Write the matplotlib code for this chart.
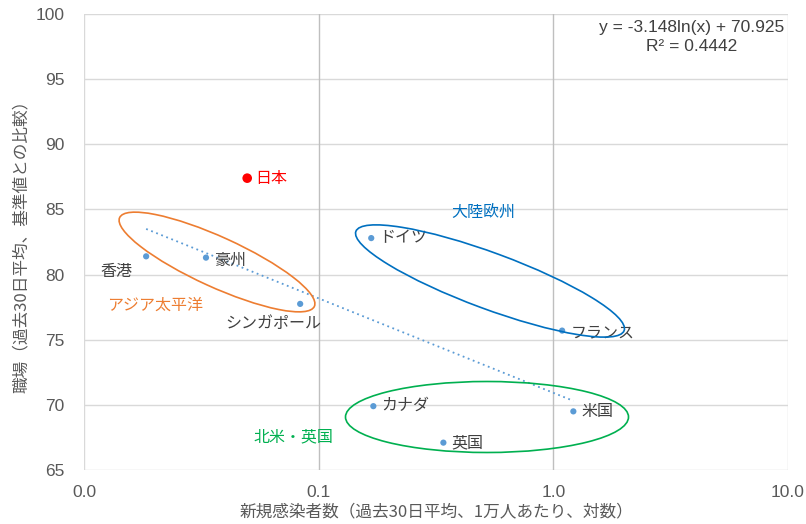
"""Scatter of workplace mobility vs new infections (log x) with group ellipses."""

import numpy as np
import matplotlib
matplotlib.use("Agg")
import matplotlib.pyplot as plt
from matplotlib.patches import Ellipse
from matplotlib.transforms import Affine2D

plt.rcParams['font.family'] = ['Noto Sans CJK JP', 'DejaVu Sans']

# data
countries = ['香港', '豪州', 'シンガポール', 'ドイツ', 'フランス', 'カナダ', '英国', '米国']
infections = [0.0184, 0.0331, 0.0834, 0.1675, 1.09, 0.171, 0.34, 1.217]
workplace = [81.4, 81.3, 77.75, 82.8, 75.7, 69.9, 67.1, 69.5]

japan_x = 0.0496
japan_y = 87.4

# trendline as printed on the chart
trend_a = -3.148
trend_b = 70.925
trend_r2 = 0.4442

x_ticks = [0.01, 0.1, 1, 10]
x_tick_labels = ['0.0', '0.1', '1.0', '10.0']
y_ticks = [65, 70, 75, 80, 85, 90, 95, 100]

TEXT = '#404040'
TICK = '#595959'
POINT = '#5B9BD5'

fig = plt.figure(figsize=(8.06, 5.24), dpi=100)
ax = fig.add_axes([84 / 806, 1 - 470 / 524, (788 - 84) / 806, (470 - 14) / 524])

ax.set_xscale('log')
ax.set_xlim(0.01, 10)
ax.set_ylim(65, 100)

# grid: light horizontal, darker vertical at 0.1 and 1
for y in y_ticks:
    ax.axhline(y, color='#d9d9d9', lw=1, zorder=0)
for x in x_ticks:
    c = '#bfbfbf' if x in (0.1, 1) else '#d9d9d9'
    ax.axvline(x, color=c, lw=1, zorder=0)
for s in ax.spines.values():
    s.set_visible(False)

ax.set_xticks(x_ticks)
ax.set_xticklabels(x_tick_labels)
ax.minorticks_off()
ax.set_yticks(y_ticks)
ax.tick_params(length=0, labelsize=12.5, labelcolor=TICK)
ax.tick_params(axis='y', pad=14)
ax.tick_params(axis='x', pad=11)
for lab in ax.get_xticklabels() + ax.get_yticklabels():
    lab.set_family(['Liberation Sans', 'DejaVu Sans'])

ax.set_xlabel('新規感染者数（過去30日平均、1万人あたり、対数）', fontsize=12, color=TICK, labelpad=2)
ax.set_ylabel('職場（過去30日平均、基準値との比較）', fontsize=12, color=TICK, labelpad=4)

# trendline
xs = np.geomspace(min(infections), max(infections), 100)
ax.plot(xs, trend_a * np.log(xs) + trend_b, ls=(0, (1, 2)), color=POINT, lw=1.3, zorder=2)

ax.scatter(infections, workplace, s=20, color=POINT, zorder=3, edgecolors='none')
ax.scatter([japan_x], [japan_y], s=48, color='#FF0000', zorder=3, edgecolors='none')

# point labels: offsets in points
offsets = {
    '香港': (-33, -11),
    '豪州': (6, -2),
    'シンガポール': (-54, -14),
    'ドイツ': (6, 0),
    'フランス': (6, -2),
    'カナダ': (6, 1),
    '英国': (6, 0),
    '米国': (6, 0),
}
for name, x, y in zip(countries, infections, workplace):
    dx, dy = offsets[name]
    ax.annotate(name, (x, y), xytext=(dx, dy), textcoords='offset points',
                ha='left', va='center', fontsize=11.5, color=TEXT)
ax.annotate('日本', (japan_x, japan_y), xytext=(6, 0), textcoords='offset points',
            ha='left', va='center', fontsize=11.5, color='#FF0000')

# group ellipses, placed in figure pixels (centre x, centre y from top, width, height, angle)
for cx, cy, w, h, ang, color in [
    (217, 262, 214, 50, -24.5, '#ED7D31'),
    (490, 281, 286, 56, -20.3, '#0070C0'),
    (487, 417, 283, 71, 0, '#00B050'),
]:
    e = Ellipse((cx, 524 - cy), w, h, angle=ang, fill=False, edgecolor=color, lw=1.2, zorder=2)
    e.set_transform(Affine2D())
    e.set_clip_on(False)
    fig.add_artist(e)

ax.text(0.101, 0.362, 'アジア太平洋', transform=ax.transAxes, fontsize=11.5, color='#ED7D31', ha='center', va='center')
ax.text(0.567, 0.564, '大陸欧州', transform=ax.transAxes, fontsize=11.5, color='#0070C0', ha='center', va='center')
ax.text(0.297, 0.072, '北米・英国', transform=ax.transAxes, fontsize=11.5, color='#00B050', ha='center', va='center')

ax.text(0.994, 0.987, f'y = {trend_a}ln(x) + {trend_b}\nR² = {trend_r2}', transform=ax.transAxes,
        ha='right', va='top', fontsize=12.5, color=TEXT, family=['Liberation Sans', 'DejaVu Sans'],
        multialignment='center', linespacing=1.3)

fig.savefig('out.png', dpi=100)
